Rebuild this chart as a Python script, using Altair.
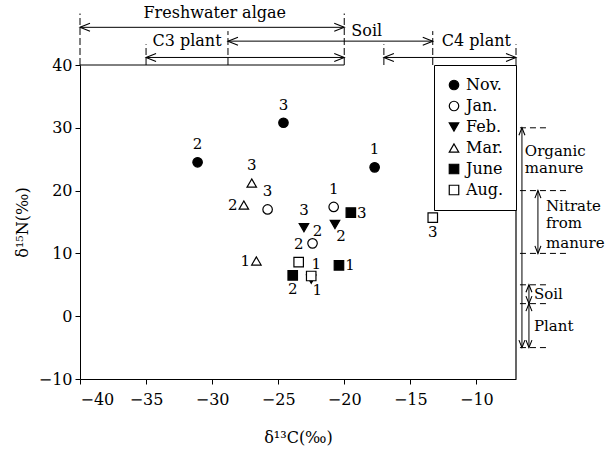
import altair as alt
import pandas as pd

# ---------------- legend categories ----------------
months = ["Nov.", "Jan.", "Feb.", "Mar.", "June", "Aug."]
month_shapes = ["circle", "circle", "triangle-down", "triangle-up", "square", "square"]
month_fills = ["black", "white", "black", "white", "black", "white"]

# ---------------- samples ----------------
sample_month = ["Nov.", "Nov.", "Nov.", "Jan.", "Jan.", "Jan.", "Feb.", "Feb.", "Feb.",
                "Mar.", "Mar.", "Mar.", "June", "June", "June", "Aug.", "Aug.", "Aug."]
sample_id = ["1", "2", "3"] * 6
sample_d13c = [-17.7, -31.1, -24.6, -20.8, -22.4, -25.8, -22.5, -20.7, -23.05,
               -26.65, -27.6, -27.0, -20.4, -23.9, -19.5, -22.5, -23.45, -13.3]
sample_d15n = [23.7, 24.5, 30.8, 17.4, 11.6, 17.0, 5.9, 14.6, 14.1,
               8.8, 17.7, 21.2, 8.1, 6.5, 16.5, 6.4, 8.6, 15.7]
label_side = ["above", "above", "above", "above", "aboveright", "above",
              "belowright", "belowright", "above", "left", "left", "above",
              "right", "below", "right", "aboveright", "above", "below"]

# ---------------- source ranges along d13C (top) ----------------
top_names = ["Freshwater algae", "C3 plant", "Soil", "C4 plant"]
top_from = [-40, -35, -28.8, -17]
top_to = [-20, -20, -13.3, -7]
top_level = [46.0, 41.2, 43.8, 41.2]
top_text_x = [-29.8, -31.9, -18.3, -10.0]
top_text_y = [47.45, 43.0, 44.6, 43.0]
top_mark_x = [-40, -35, -28.8, -20, -17, -13.3, -7]
top_mark_top = [48.2, 43.3, 45.4, 48.2, 43.3, 45.4, 43.3]

# ---------------- source ranges along d15N (right) ----------------
right_from = [30, 20, 5, 2]
right_to = [-5, 10, 2, -5]
right_at = [-6.55, -5.34, -6.02, -6.02]
right_text = ["Organic", "manure", "Nitrate", "from", "manure", "Soil", "Plant"]
right_text_x = [-6.33, -6.33, -4.73, -4.73, -4.73, -5.64, -5.64]
right_text_y = [25.5, 22.8, 16.8, 14.1, 10.9, 2.7, -2.4]
right_mark_y = [30, 20, 10, 5, 2, -5]
right_mark_from = [-6.7, -6.7, -6.7, -6.7, -6.7, -6.7]
right_mark_to = [-4.6, -3.1, -3.1, -4.6, -4.6, -4.6]

# ---------------- frame ----------------
x_domain = [-40, -7]
y_domain = [-10, 40]
x_ticks = [-40, -35, -30, -25, -20, -15, -10]
y_ticks = [-10, 0, 10, 20, 30, 40]

FONT = "DejaVu Serif"
FS = 16

# ---------------- tables ----------------
pts = pd.DataFrame({"month": sample_month, "id": sample_id, "x": sample_d13c,
                    "y": sample_d15n, "pos": label_side})
top_df = pd.DataFrame({"name": top_names, "x": top_from, "x2": top_to, "y": top_level,
                       "tx": top_text_x, "ty": top_text_y})
top_marks = pd.DataFrame({"x": top_mark_x, "y": [y_domain[1]] * len(top_mark_x), "y2": top_mark_top})
right_df = pd.DataFrame({"x": right_at, "y": right_from, "y2": right_to})
right_txt = pd.DataFrame({"t": right_text, "x": right_text_x, "y": right_text_y})
right_marks = pd.DataFrame({"y": right_mark_y, "x": right_mark_from, "x2": right_mark_to})

heads_h = pd.DataFrame({
    "x": top_from + top_to,
    "y": top_level + top_level,
    "ang": [180] * len(top_from) + [0] * len(top_to),
})
heads_v = pd.DataFrame({
    "x": right_at + right_at,
    "y": right_from + right_to,
    "ang": [270] * len(right_from) + [90] * len(right_to),
})
frame_top = pd.DataFrame({"x": [x_domain[0]], "x2": [-20], "y": [y_domain[1]]})
frame_right = pd.DataFrame({"x": [x_domain[1]], "y": [y_domain[0]], "y2": [y_domain[1]]})

# ---------------- scales / axes ----------------
xs = alt.Scale(domain=x_domain, nice=False, zero=False)
ys = alt.Scale(domain=y_domain, nice=False, zero=False)
axis_common = dict(labelFont=FONT, labelFontSize=FS, labelColor="black",
                   titleFont=FONT, titleFontSize=FS, titleFontWeight="normal",
                   titleColor="black", tickColor="black", domainColor="black",
                   grid=False, tickSize=5)
xaxis = alt.Axis(values=x_ticks, title="δ¹³C(‰)", labelPadding=7, titlePadding=22,
                 **axis_common)
yaxis = alt.Axis(values=y_ticks, title="δ¹⁵N(‰)", labelPadding=3, titlePadding=8,
                 **axis_common)


def X(f):
    return alt.X(f, type="quantitative", scale=xs, axis=xaxis)


def Y(f):
    return alt.Y(f, type="quantitative", scale=ys, axis=yaxis)


ARROW = "M-2.5,-1L0,0L-2.5,1"

leg = alt.Legend(title=None, orient="none", legendX=354, legendY=0,
                 strokeColor="black", fillColor="white", padding=12, rowPadding=5,
                 labelFont=FONT, labelFontSize=FS, labelColor="black", labelOffset=4,
                 symbolSize=90, symbolStrokeWidth=1.2)

points = alt.Chart(pts).mark_point(filled=True, strokeWidth=1.2, size=90, opacity=1).encode(
    x=X("x"), y=Y("y"),
    shape=alt.Shape("month:N", scale=alt.Scale(domain=months, range=month_shapes), legend=leg),
    fill=alt.Fill("month:N", scale=alt.Scale(domain=months, range=month_fills), legend=leg),
    stroke=alt.Stroke("month:N", scale=alt.Scale(domain=months, range=["black"] * len(months)),
                      legend=leg),
)

offsets = {"above": (0, -18), "below": (0, 14), "left": (-11, 0), "right": (11, 0),
           "aboveright": (5, -12), "belowright": (6, 11)}
label_layers = []
for side, (dx, dy) in offsets.items():
    label_layers.append(
        alt.Chart(pts).transform_filter(alt.datum.pos == side)
        .mark_text(font=FONT, fontSize=15, color="black", dx=dx, dy=dy,
                   align="center", baseline="middle")
        .encode(x=X("x"), y=Y("y"), text="id:N")
    )

frame_t = alt.Chart(frame_top).mark_rule(color="black", strokeWidth=1).encode(
    x=X("x"), x2="x2", y=Y("y"))
frame_r = alt.Chart(frame_right).mark_rule(color="black", strokeWidth=1.2).encode(
    x=X("x"), y=Y("y"), y2="y2")

top_dash = alt.Chart(top_marks).mark_rule(color="black", strokeWidth=1, strokeDash=[7, 3]).encode(
    x=X("x"), y=Y("y"), y2="y2")
top_lines = alt.Chart(top_df).mark_rule(color="black", strokeWidth=1).encode(
    x=X("x"), x2="x2", y=Y("y"))
top_heads = alt.Chart(heads_h).mark_point(shape=ARROW, filled=False, color="black",
                                          strokeWidth=1.1, size=64, opacity=1).encode(
    x=X("x"), y=Y("y"), angle=alt.Angle("ang:Q", scale=None))
top_text = alt.Chart(top_df).mark_text(font=FONT, fontSize=FS, color="black",
                                       align="center", baseline="alphabetic").encode(
    x=X("tx"), y=Y("ty"), text="name:N")

right_dash = alt.Chart(right_marks).mark_rule(color="black", strokeWidth=1, strokeDash=[6, 4]).encode(
    x=X("x"), x2="x2", y=Y("y"))
right_lines = alt.Chart(right_df).mark_rule(color="black", strokeWidth=1).encode(
    x=X("x"), y=Y("y"), y2="y2")
right_heads = alt.Chart(heads_v).mark_point(shape=ARROW, filled=False, color="black",
                                            strokeWidth=1.1, size=36, opacity=1).encode(
    x=X("x"), y=Y("y"), angle=alt.Angle("ang:Q", scale=None))
right_t = alt.Chart(right_txt).mark_text(font=FONT, fontSize=15, color="black",
                                         align="left", baseline="alphabetic").encode(
    x=X("x"), y=Y("y"), text="t:N")

chart = alt.layer(
    frame_t, frame_r, top_dash, top_lines, top_heads, top_text,
    right_dash, right_lines, right_heads, right_t,
    points, *label_layers,
).properties(
    width=436, height=314,
    autosize=alt.AutoSizeParams(type="none"),
    padding={"left": 80, "top": 65, "right": 100, "bottom": 72},
    background="white",
).configure_view(stroke="transparent")

chart.save("out.html", embed_options={"renderer": "svg", "actions": False})
